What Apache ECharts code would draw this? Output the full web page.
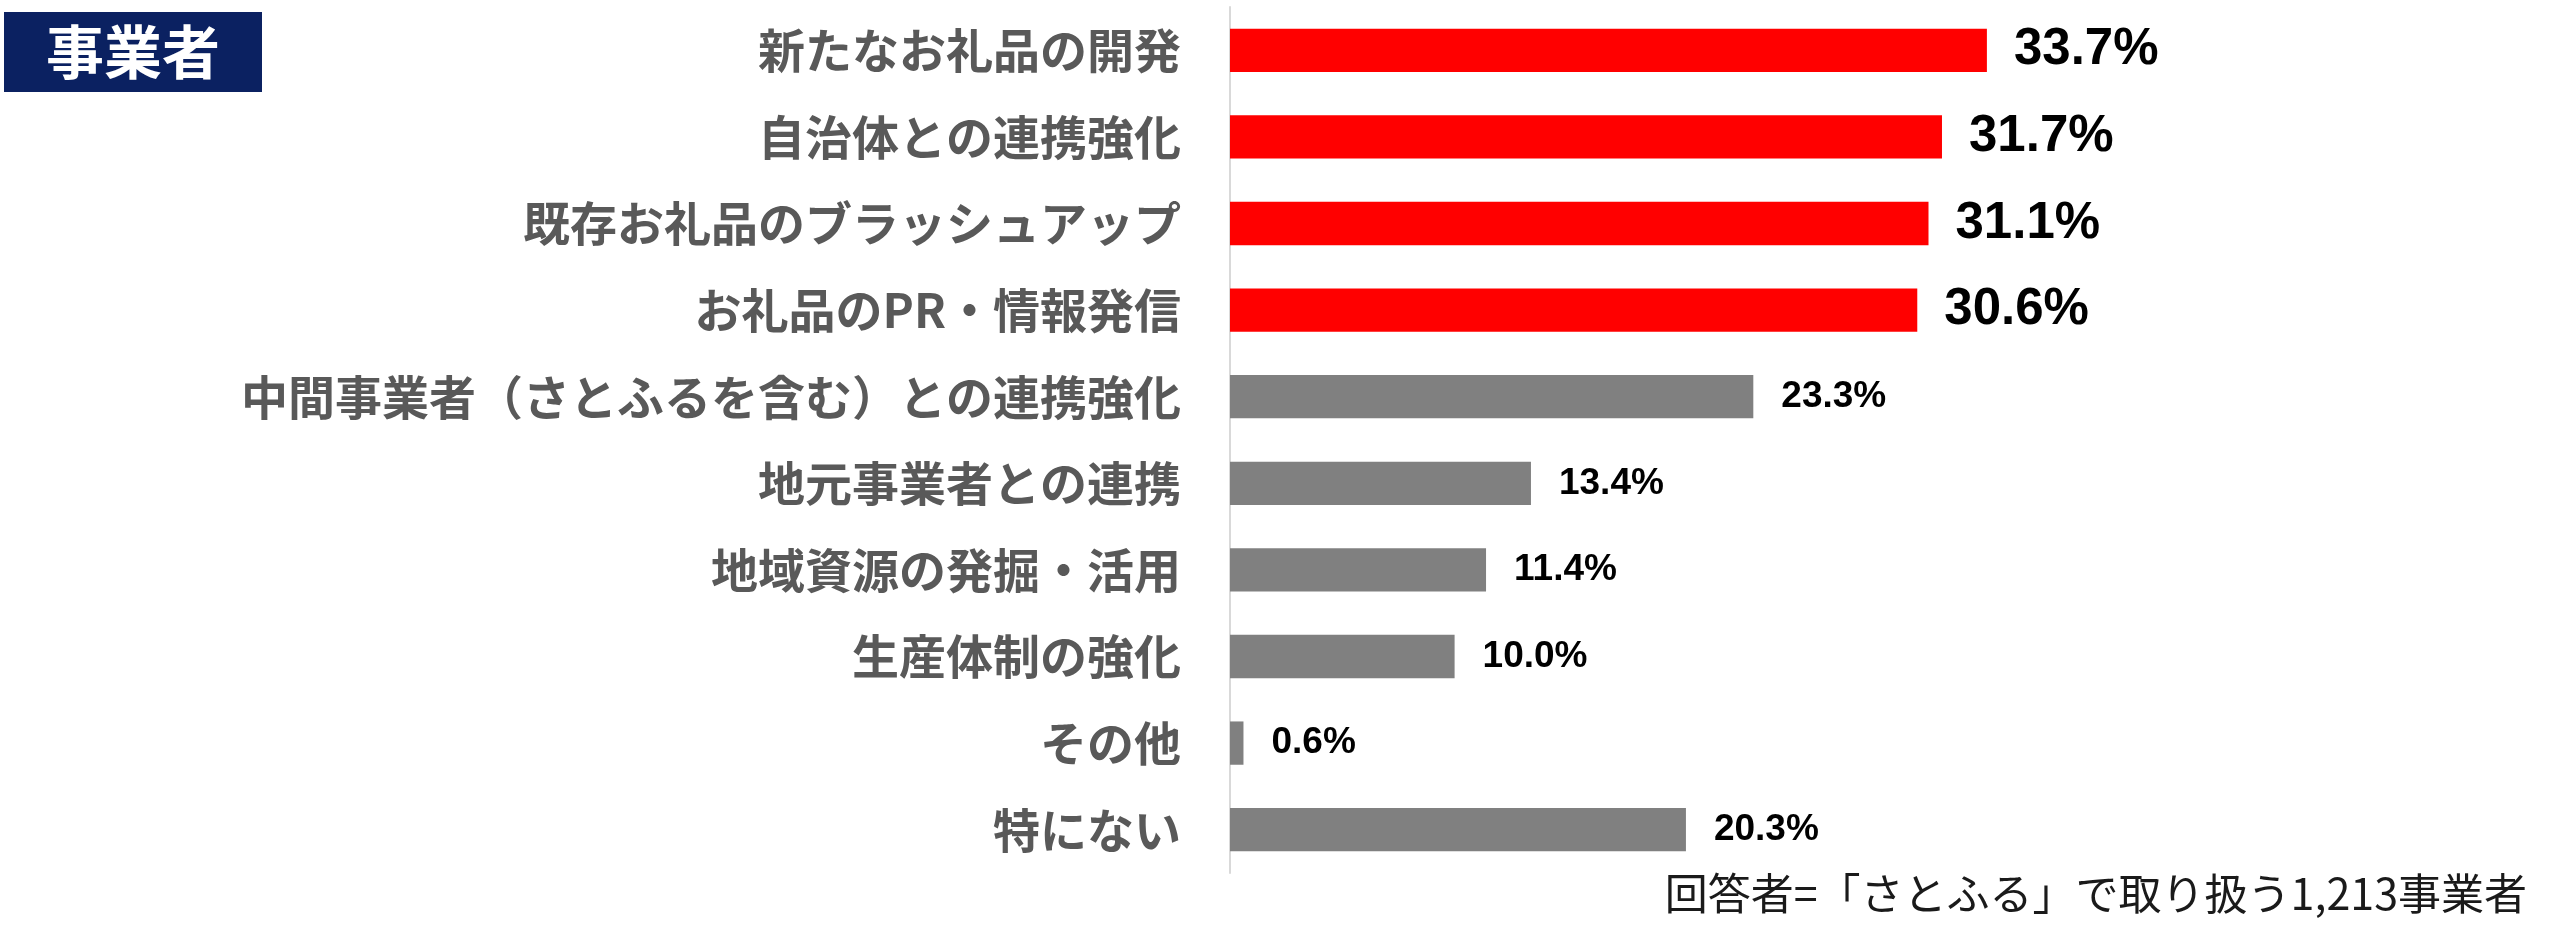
<!DOCTYPE html>
<html lang="ja">
<head>
    <meta charset="UTF-8">
    <title>事業者</title>
    <script src="https://cdn.jsdelivr.net/npm/echarts@6/dist/echarts.min.js"></script>
    <style>
        html, body { margin: 0; padding: 0; height: 100%; background: #fff; }
        #pic { width: 2560px; height: 951px; }
    </style>
</head>
<body>
    <div id="pic"></div>
    <script>
        // データ
        var categories = [
            '新たなお礼品の開発',
            '自治体との連携強化',
            '既存お礼品のブラッシュアップ',
            'お礼品のPR・情報発信',
            '中間事業者（さとふるを含む）との連携強化',
            '地元事業者との連携',
            '地域資源の発掘・活用',
            '生産体制の強化',
            'その他',
            '特にない'
        ];
        var values = [33.7, 31.7, 31.1, 30.6, 23.3, 13.4, 11.4, 10.0, 0.6, 20.3];
        var topCount = 4; // 上位4項目を赤で強調
        var panelTitle = '事業者';
        var note = '回答者=「さとふる」で取り扱う1,213事業者';

        var jpFont = '"Noto Sans CJK JP", "Noto Sans", sans-serif';
        var numFont = '"Liberation Sans", Arial, sans-serif';

        var barData = values.map(function (v, i) {
            var top = i < topCount;
            return {
                value: v,
                itemStyle: { color: top ? '#ff0000' : '#808080' },
                label: {
                    fontSize: top ? 51 : 37,
                    distance: top ? 27 : 28
                }
            };
        });

        var myChart = echarts.init(document.getElementById('pic'));

        var option = {
            animation: false,
            title: {
                text: panelTitle,
                left: 4,
                top: 12,
                padding: [11, 42],
                backgroundColor: '#0b2161',
                textStyle: {
                    color: '#fff',
                    fontFamily: jpFont,
                    fontWeight: 'bold',
                    fontSize: 58,
                    lineHeight: 58
                }
            },
            graphic: [{
                type: 'text',
                right: 33,
                top: 872,
                style: {
                    text: note,
                    fill: '#1a1a1a',
                    font: '43px ' + jpFont
                }
            }],
            grid: {
                left: 1230,
                right: 207,
                top: 7,
                bottom: 78
            },
            xAxis: {
                type: 'value',
                min: 0,
                max: 50,
                show: false
            },
            yAxis: {
                type: 'category',
                inverse: true,
                data: categories,
                axisTick: { show: false },
                axisLine: { lineStyle: { color: '#d9d9d9', width: 2 } },
                axisLabel: {
                    margin: 49,
                    color: '#595959',
                    fontFamily: jpFont,
                    fontWeight: 'bold',
                    fontSize: 47
                }
            },
            series: [{
                type: 'bar',
                data: barData,
                barCategoryGap: '50%',
                label: {
                    show: true,
                    position: 'right',
                    color: '#000',
                    fontFamily: numFont,
                    fontWeight: 'bold',
                    formatter: function (p) { return p.value.toFixed(1) + '%'; }
                }
            }]
        };

        myChart.setOption(option);
    </script>
</body>
</html>
